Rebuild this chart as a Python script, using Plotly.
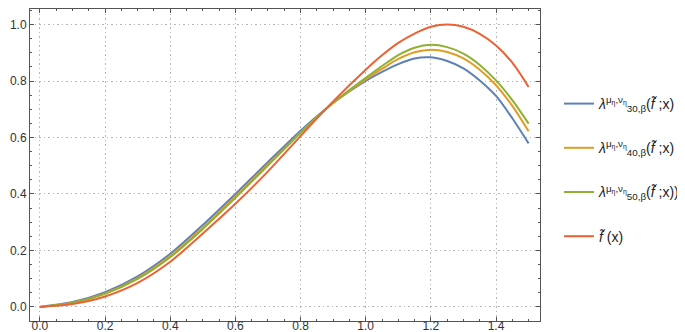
import plotly.graph_objects as go

x_vals = [0.0, 0.1, 0.2, 0.3, 0.4, 0.5, 0.6, 0.7, 0.8, 0.9, 1.0, 1.05, 1.1, 1.15, 1.2, 1.25, 1.3, 1.35, 1.4, 1.45, 1.5]
lam30 = [0.0, 0.017, 0.052, 0.108, 0.188, 0.290, 0.400, 0.513, 0.624, 0.722, 0.800, 0.832, 0.860, 0.880, 0.884, 0.871, 0.845, 0.802, 0.747, 0.668, 0.579]
lam40 = [0.0, 0.015, 0.048, 0.102, 0.180, 0.280, 0.390, 0.505, 0.618, 0.722, 0.806, 0.843, 0.878, 0.902, 0.911, 0.903, 0.880, 0.840, 0.785, 0.712, 0.622]
lam50 = [0.0, 0.014, 0.046, 0.099, 0.176, 0.276, 0.386, 0.501, 0.616, 0.723, 0.811, 0.853, 0.892, 0.918, 0.928, 0.920, 0.897, 0.857, 0.802, 0.732, 0.649]
f_tilde = [0.0, 0.010, 0.037, 0.085, 0.160, 0.260, 0.365, 0.480, 0.605, 0.728, 0.840, 0.891, 0.935, 0.968, 0.992, 1.000, 0.992, 0.967, 0.926, 0.865, 0.779]

names = [
    "<i>λ</i><sup>μ<sub>η</sub>,ν<sub>η</sub></sup><sub>30,β</sub>(<i>f̃</i> ;x)",
    "<i>λ</i><sup>μ<sub>η</sub>,ν<sub>η</sub></sup><sub>40,β</sub>(<i>f̃</i> ;x)",
    "<i>λ</i><sup>μ<sub>η</sub>,ν<sub>η</sub></sup><sub>50,β</sub>(<i>f̃</i> ;x))",
    "<i>f̃</i> (x)",
]
series = [lam30, lam40, lam50, f_tilde]
colors = ["#5E81B5", "#E19C24", "#8FB032", "#EB6235"]

x_ticks = [0.0, 0.2, 0.4, 0.6, 0.8, 1.0, 1.2, 1.4]
y_ticks = [0.0, 0.2, 0.4, 0.6, 0.8, 1.0]

fig = go.Figure()
for i, (name, ys, c) in enumerate(zip(names, series, colors)):
    fig.add_trace(go.Scatter(
        x=x_vals, y=ys, mode="lines", name=name,
        line=dict(color=c, width=2, shape="spline", smoothing=0.8),
        legendgroup=f"g{i}",
    ))

axis_common = dict(
    showline=True, linecolor="#555555", linewidth=1, mirror="allticks",
    ticks="inside", ticklen=4, tickcolor="#555555", tickwidth=1,
    showgrid=True, gridcolor="#b5b5b5", griddash="1.5px,3px", gridwidth=1,
    zeroline=False, tickfont=dict(family="Liberation Sans, Arial, sans-serif", size=12, color="#333333"),
    minor=dict(ticks="inside", ticklen=2, tickcolor="#555555", showgrid=False),
)

fig.update_xaxes(range=[-0.0305, 1.535], tickvals=x_ticks, ticktext=[f"{v:.1f}" for v in x_ticks],
                 minor_dtick=0.05, ticklabelstandoff=-6, **axis_common)
fig.update_yaxes(range=[-0.05, 1.055], tickvals=y_ticks, ticktext=[f"{v:.1f}" for v in y_ticks],
                 minor_dtick=0.05, **axis_common)

fig.update_layout(
    width=685, height=332,
    margin=dict(l=22, r=153, t=1, b=19, autoexpand=False),
    plot_bgcolor="white", paper_bgcolor="white",
    font=dict(family="Liberation Sans, Arial, sans-serif", size=13, color="#222222"),
    legend=dict(xref="container", yref="container", x=551/685, y=1 - 80/332,
                xanchor="left", yanchor="top", traceorder="grouped",
                tracegroupgap=23, bgcolor="rgba(0,0,0,0)",
                font=dict(size=14)),
    showlegend=True,
)

fig.write_html("out.html")
